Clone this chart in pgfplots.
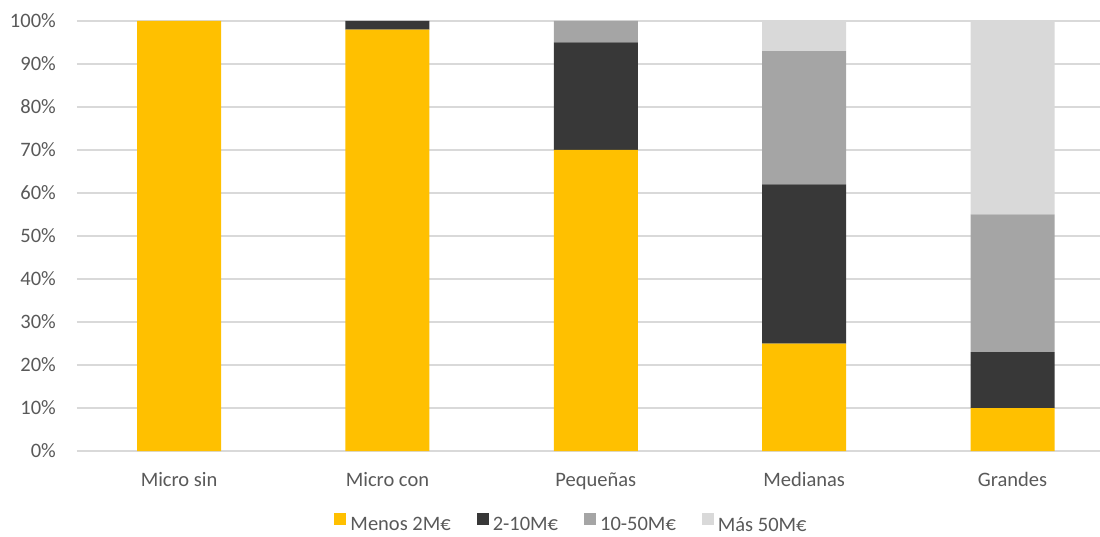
\documentclass[border=0pt]{standalone}
\usepackage{fontspec}
\setmainfont{Carlito}
\usepackage{pgfplots}
\pgfplotsset{compat=1.18}
\definecolor{cYel}{HTML}{FFC000}
\definecolor{cDark}{HTML}{383838}
\definecolor{cMid}{HTML}{A5A5A5}
\definecolor{cLight}{HTML}{D9D9D9}
\definecolor{cGrid}{HTML}{D9D9D9}
\definecolor{cText}{HTML}{595959}
\newcommand{\lblfont}{\fontsize{20.5}{24}\selectfont}
\begin{document}
\begin{tikzpicture}
\useasboundingbox (0,0) rectangle (1100pt,536pt);
\begin{axis}[
  at={(77pt,85pt)}, anchor=south west,
  scale only axis, width=1023pt, height=430pt,
  ybar stacked, bar width=84pt,
  xmin=-0.49, xmax=4.42, ymin=0, ymax=100,
  xtick={0,1,2,3,4},
  xticklabels={Micro sin, Micro con, Pequeñas, Medianas, Grandes},
  ytick={0,10,...,100},
  yticklabel={\pgfmathprintnumber{\tick}\%},
  /pgf/number format/assume math mode=true,
  ymajorgrids, grid style={cGrid, line width=1.3pt},
  axis line style={draw=none}, major tick length=0pt,
  tick label style={font=\lblfont, text=cText, inner sep=0pt},
  yticklabel style={anchor=east},
  yticklabel shift=21pt,
  xticklabel style={anchor=base},
  xticklabel shift=35pt,
  legend columns=4,
  legend style={
    at={(0.4834,-0.1674)}, anchor=center, draw=none, fill=none,
    font=\lblfont, text=cText,
    nodes={inner xsep=2pt, inner ysep=0pt},
    /tikz/every odd column/.append style={column sep=2pt},
    /tikz/every even column/.append style={column sep=24pt},
  },
  legend image code/.code={\fill[#1] (0pt,-0.5pt) rectangle (12pt,11.5pt);},
  every axis plot/.append style={draw=none},
]
\addplot[fill=cYel]   coordinates {(0,100) (1,98) (2,70) (3,25) (4,10)};
\addplot[fill=cDark]  coordinates {(0,0) (1,2) (2,25) (3,37) (4,13)};
\addplot[fill=cMid]   coordinates {(0,0) (1,0) (2,5) (3,31) (4,32)};
\addplot[fill=cLight] coordinates {(0,0) (1,0) (2,0) (3,7) (4,45)};
\legend{Menos 2M€, 2-10M€, 10-50M€, Más 50M€}
\end{axis}
\end{tikzpicture}
\end{document}
